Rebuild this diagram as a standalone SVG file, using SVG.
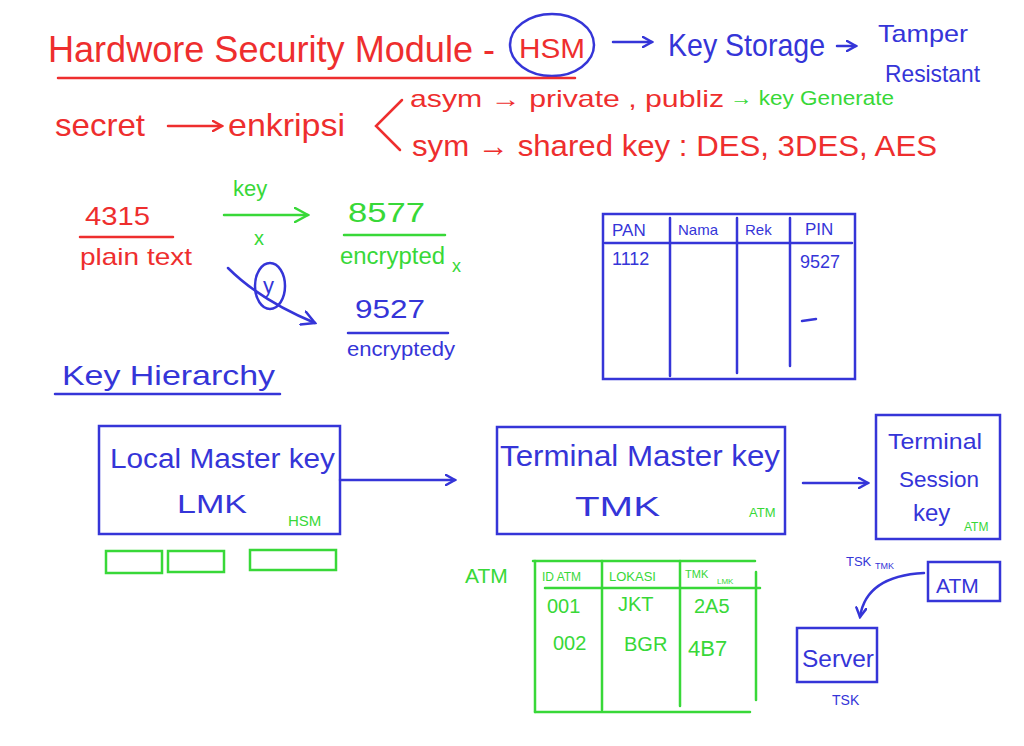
<svg xmlns="http://www.w3.org/2000/svg" width="1024" height="746" viewBox="0 0 1024 746">
<defs>
<style>
text{font-family:"Liberation Sans","DejaVu Sans",sans-serif}
.r{fill:#ee2e2e}.b{fill:#3535d8}.g{fill:#38d838}
.sr{stroke:#ee2e2e;fill:none;stroke-width:2.5;stroke-linecap:round}
.sb{stroke:#3535d8;fill:none;stroke-width:2.5;stroke-linecap:round}
.sg{stroke:#38d838;fill:none;stroke-width:2.5;stroke-linecap:round}
</style>
<marker id="ab" markerWidth="12" markerHeight="12" refX="10" refY="6" orient="auto" markerUnits="userSpaceOnUse"><path d="M1,1 L10,6 L1,11" fill="none" stroke="#3535d8" stroke-width="2.5" stroke-linecap="round"/></marker>
<marker id="ab2" markerWidth="16" markerHeight="16" refX="14" refY="8" orient="auto" markerUnits="userSpaceOnUse"><path d="M1,1 L14,8 L1,15" fill="none" stroke="#3535d8" stroke-width="2.5" stroke-linecap="round"/></marker>
<marker id="ar" markerWidth="12" markerHeight="12" refX="10" refY="6" orient="auto" markerUnits="userSpaceOnUse"><path d="M1,1 L10,6 L1,11" fill="none" stroke="#ee2e2e" stroke-width="2.5" stroke-linecap="round"/></marker>
<marker id="ag" markerWidth="16" markerHeight="16" refX="14" refY="8" orient="auto" markerUnits="userSpaceOnUse"><path d="M1,1 L14,8 L1,15" fill="none" stroke="#38d838" stroke-width="2.5" stroke-linecap="round"/></marker>
</defs>
<rect width="1024" height="746" fill="#ffffff"/>

<g id="title">
<text x="48" y="62" class="r" font-size="36" textLength="447" lengthAdjust="spacingAndGlyphs">Hardwore Security Module -</text>
<text x="519" y="58" class="r" font-size="28" textLength="66" lengthAdjust="spacingAndGlyphs">HSM</text>
<ellipse cx="552" cy="45" rx="42" ry="31" class="sb"/>
<line x1="58" y1="78" x2="575" y2="78" class="sr"/>
</g>

<g id="key-storage">
<text x="668" y="56" class="b" font-size="32" textLength="157" lengthAdjust="spacingAndGlyphs">Key Storage</text>
<text x="878" y="42" class="b" font-size="24" textLength="90" lengthAdjust="spacingAndGlyphs">Tamper</text>
<text x="885" y="82" class="b" font-size="24" textLength="95" lengthAdjust="spacingAndGlyphs">Resistant</text>
</g>

<g id="encryption-line">
<text x="55" y="136" class="r" font-size="32" textLength="90" lengthAdjust="spacingAndGlyphs">secret</text>
<text x="228" y="136" class="r" font-size="32" textLength="117" lengthAdjust="spacingAndGlyphs">enkripsi</text>
<path d="M402,100 L376,126 L400,150" class="sr"/>
<text x="410" y="107" class="r" font-size="24" textLength="314" lengthAdjust="spacingAndGlyphs">asym → private , publiz</text>
<text x="730" y="105" class="g" font-size="20" textLength="164" lengthAdjust="spacingAndGlyphs">→ key Generate</text>
<text x="412" y="156" class="r" font-size="30" textLength="525" lengthAdjust="spacingAndGlyphs">sym → shared key : DES, 3DES, AES</text>
</g>

<g id="example">
<text x="85" y="225" class="r" font-size="26" textLength="65" lengthAdjust="spacingAndGlyphs">4315</text>
<line x1="80" y1="237" x2="173" y2="237" class="sr"/>
<text x="80" y="265" class="r" font-size="24" textLength="112" lengthAdjust="spacingAndGlyphs">plain text</text>
<text x="233" y="196" class="g" font-size="22">key</text>
<text x="254" y="245" class="g" font-size="20">x</text>
<text x="348" y="222" class="g" font-size="28" textLength="77" lengthAdjust="spacingAndGlyphs">8577</text>
<line x1="344" y1="235" x2="445" y2="235" class="sg"/>
<text x="340" y="264" class="g" font-size="23" textLength="105" lengthAdjust="spacingAndGlyphs">encrypted</text>
<text x="452" y="272" class="g" font-size="18">x</text>
<ellipse cx="270" cy="286" rx="15" ry="23" class="sb"/>
<text x="263" y="293" class="b" font-size="22">y</text>
<text x="355" y="318" class="b" font-size="26" textLength="70" lengthAdjust="spacingAndGlyphs">9527</text>
<line x1="348" y1="333" x2="448" y2="333" class="sb"/>
<text x="347" y="356" class="b" font-size="20" textLength="108" lengthAdjust="spacingAndGlyphs">encryptedy</text>
</g>

<g id="pin-table">
<rect x="603" y="214" width="252" height="165" class="sb"/>
<line x1="605" y1="243" x2="852" y2="243" class="sb"/>
<line x1="670" y1="218" x2="670" y2="376" class="sb"/>
<line x1="737" y1="218" x2="737" y2="373" class="sb"/>
<line x1="790" y1="218" x2="790" y2="366" class="sb"/>
<text x="612" y="236" class="b" font-size="17">PAN</text>
<text x="678" y="235" class="b" font-size="15">Nama</text>
<text x="745" y="235" class="b" font-size="15">Rek</text>
<text x="805" y="235" class="b" font-size="17">PIN</text>
<text x="612" y="265" class="b" font-size="18">1112</text>
<text x="800" y="268" class="b" font-size="18">9527</text>
<line x1="802" y1="321" x2="816" y2="319" class="sb"/>
</g>

<g id="key-hierarchy">
<text x="62" y="385" class="b" font-size="28" textLength="213" lengthAdjust="spacingAndGlyphs">Key Hierarchy</text>
<line x1="55" y1="394" x2="280" y2="394" class="sb"/>
</g>

<g id="lmk">
<rect x="99" y="426" width="241" height="108" class="sb"/>
<text x="110" y="468" class="b" font-size="27" textLength="225" lengthAdjust="spacingAndGlyphs">Local Master key</text>
<text x="177" y="513" class="b" font-size="26" textLength="70" lengthAdjust="spacingAndGlyphs">LMK</text>
<text x="288" y="526" class="g" font-size="15">HSM</text>
<rect x="106" y="551" width="56" height="22" class="sg"/>
<rect x="168" y="551" width="56" height="21" class="sg"/>
<rect x="250" y="550" width="86" height="20" class="sg"/>
</g>

<g id="tmk">
<rect x="497" y="427" width="288" height="107" class="sb"/>
<text x="500" y="466" class="b" font-size="30" textLength="280" lengthAdjust="spacingAndGlyphs">Terminal Master key</text>
<text x="575" y="516" class="b" font-size="28" textLength="85" lengthAdjust="spacingAndGlyphs">TMK</text>
<text x="749" y="517" class="g" font-size="13">ATM</text>
</g>

<g id="tsk">
<rect x="876" y="415" width="124" height="124" class="sb"/>
<text x="888" y="449" class="b" font-size="22" textLength="94" lengthAdjust="spacingAndGlyphs">Terminal</text>
<text x="899" y="487" class="b" font-size="22" textLength="80" lengthAdjust="spacingAndGlyphs">Session</text>
<text x="913" y="521" class="b" font-size="24">key</text>
<text x="964" y="531" class="g" font-size="12">ATM</text>
</g>

<g id="atm-table">
<text x="465" y="583" class="g" font-size="21">ATM</text>
<line x1="533" y1="561" x2="755" y2="561" class="sg"/>
<line x1="545" y1="588" x2="760" y2="588" class="sg"/>
<line x1="535" y1="712" x2="750" y2="712" class="sg"/>
<line x1="535" y1="561" x2="535" y2="712" class="sg"/>
<line x1="602" y1="561" x2="602" y2="710" class="sg"/>
<line x1="680" y1="561" x2="680" y2="706" class="sg"/>
<line x1="756" y1="572" x2="756" y2="700" class="sg"/>
<text x="542" y="581" class="g" font-size="12">ID ATM</text>
<text x="609" y="581" class="g" font-size="13">LOKASI</text>
<text x="685" y="578" class="g" font-size="11">TMK</text>
<text x="717" y="584" class="g" font-size="8">LMK</text>
<text x="547" y="613" class="g" font-size="20">001</text>
<text x="618" y="611" class="g" font-size="20">JKT</text>
<text x="694" y="613" class="g" font-size="20">2A5</text>
<text x="553" y="650" class="g" font-size="20">002</text>
<text x="624" y="651" class="g" font-size="20">BGR</text>
<text x="688" y="656" class="g" font-size="22">4B7</text>
</g>

<g id="atm">
<rect x="928" y="562" width="72" height="39" class="sb"/>
<text x="936" y="593" class="b" font-size="21">ATM</text>
</g>

<g id="server">
<rect x="797" y="628" width="80" height="54" class="sb"/>
<text x="802" y="667" class="b" font-size="24" textLength="72" lengthAdjust="spacingAndGlyphs">Server</text>
<text x="832" y="705" class="b" font-size="14">TSK</text>
</g>

<g id="connectors">
<line x1="613" y1="42" x2="652" y2="42" class="sb" marker-end="url(#ab)"/>
<line x1="837" y1="46" x2="856" y2="46" class="sb" marker-end="url(#ab)"/>
<line x1="168" y1="126" x2="222" y2="126" class="sr" marker-end="url(#ar)"/>
<line x1="224" y1="215" x2="308" y2="215" class="sg" marker-end="url(#ag)"/>
<path d="M228,268 Q260,300 315,323" class="sb" marker-end="url(#ab2)"/>
<line x1="340" y1="480" x2="455" y2="480" class="sb" marker-end="url(#ab)"/>
<line x1="803" y1="483" x2="868" y2="483" class="sb" marker-end="url(#ab)"/>
<path d="M924,573 Q866,576 860,617" class="sb" marker-end="url(#ab)"/>
<text x="846" y="566" class="b" font-size="13">TSK</text>
<text x="875" y="569" class="b" font-size="9">TMK</text>
</g>
</svg>
